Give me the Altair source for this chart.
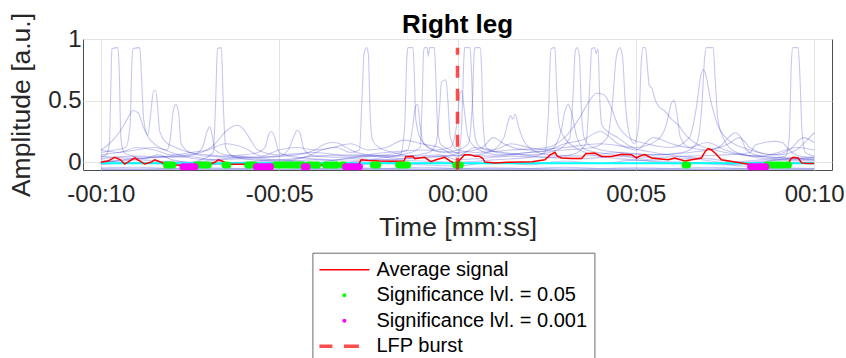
import altair as alt
import pandas as pd

# ---------------- data ----------------
X_TICKS = [-10, -5, 0, 5, 10]
X_TICK_LABELS = ["-00:10", "-00:05", "00:00", "00:05", "00:10"]
Y_TICKS = [0, 0.5, 1]
Y_TICK_LABELS = ["0", "0.5", "1"]

# individual trials (time [s], amplitude [a.u.])
trial_01 = [(-10, 0.04), (-9.85, 0.06), (-9.76, 0.15), (-9.72, 0.6), (-9.69, 0.92), (-9.52, 0.93), (-9.48, 0.7),
            (-9.44, 0.2), (-9.35, 0.08), (-9.1, 0.05), (-8.8, 0.03), (-8.4, 0.06), (-8.0, 0.02), (-7.5, 0.0),
            (-7.1, 0.03), (-6.85, 0.08), (-6.78, 0.5), (-6.73, 0.92), (-6.62, 0.93), (-6.57, 0.5), (-6.5, 0.12),
            (-6.3, 0.05), (-5.8, 0.02), (-5.0, 0.0), (-4.0, -0.02), (-3.0, 0.0), (-2.0, 0.02), (-1.0, 0.01),
            (0.0, 0.0), (1.0, 0.02), (2.0, 0.04), (2.45, 0.08), (2.55, 0.4), (2.62, 0.92), (2.73, 0.93),
            (2.78, 0.6), (2.85, 0.3), (3.0, 0.2), (3.3, 0.12), (3.8, 0.06), (4.5, 0.03), (5.5, 0.01), (6.5, 0.0),
            (7.5, -0.02), (8.5, 0.0), (9.3, 0.03), (10, 0.02)]
trial_02 = [(-10, 0.08), (-9.6, 0.1), (-9.3, 0.12), (-9.18, 0.3), (-9.13, 0.8), (-9.10, 0.92), (-8.91, 0.93),
            (-8.86, 0.7), (-8.8, 0.35), (-8.7, 0.22), (-8.5, 0.15), (-8.2, 0.1), (-7.8, 0.06), (-7.3, 0.04),
            (-6.8, 0.02), (-6.0, 0.03), (-5.0, 0.01), (-4.2, 0.05), (-3.8, 0.1), (-3.4, 0.12), (-3.0, 0.08),
            (-2.75, 0.1), (-2.68, 0.5), (-2.62, 0.88), (-2.55, 0.93), (-2.5, 0.88), (-2.45, 0.4), (-2.38, 0.18),
            (-2.2, 0.12), (-1.8, 0.08), (-1.2, 0.05), (-0.5, 0.06), (0.0, 0.02), (0.6, 0.03), (1.5, 0.05),
            (2.5, 0.04), (3.2, 0.06), (3.6, 0.15), (3.72, 0.7), (3.76, 0.92), (3.85, 0.93), (3.88, 0.88),
            (3.94, 0.92), (3.99, 0.5), (4.05, 0.3), (4.2, 0.25), (4.5, 0.2), (4.9, 0.12), (5.5, 0.08), (6.2, 0.05),
            (7.0, 0.03), (8.0, 0.0), (9.0, 0.02), (10, 0.04)]
trial_03 = [(-10, -0.02), (-9.0, 0.0), (-8.0, -0.02), (-7.0, 0.01), (-6.0, -0.01), (-5.0, 0.0), (-4.0, 0.02),
            (-3.0, 0.01), (-2.0, 0.04), (-1.6, 0.06), (-1.48, 0.3), (-1.42, 0.85), (-1.39, 0.93), (-1.25, 0.93),
            (-1.21, 0.7), (-1.17, 0.35), (-1.05, 0.2), (-0.8, 0.12), (-0.4, 0.08), (0.0, 0.1), (0.3, 0.15),
            (0.42, 0.5), (0.47, 0.9), (0.5, 0.93), (0.63, 0.93), (0.67, 0.8), (0.72, 0.3), (0.8, 0.12), (1.1, 0.08),
            (1.8, 0.06), (2.5, 0.04), (3.5, 0.03), (4.5, 0.05), (5.5, 0.02), (6.5, 0.03), (7.5, 0.0), (8.5, 0.02),
            (9.2, 0.05), (9.3, 0.2), (9.36, 0.8), (9.4, 0.93), (9.55, 0.93), (9.6, 0.7), (9.66, 0.25),
            (9.75, 0.08), (10, 0.05)]
trial_04 = [(-10, 0.05), (-9.0, 0.03), (-8.0, 0.05), (-7.0, 0.02), (-6.0, 0.04), (-5.0, 0.02), (-4.0, 0.05),
            (-3.0, 0.06), (-2.0, 0.05), (-1.3, 0.08), (-1.05, 0.12), (-0.99, 0.5), (-0.95, 0.9), (-0.92, 0.93),
            (-0.85, 0.93), (-0.82, 0.86), (-0.78, 0.93), (-0.65, 0.93), (-0.61, 0.7), (-0.56, 0.3), (-0.48, 0.15),
            (-0.2, 0.1), (0.2, 0.06), (1.0, 0.05), (2.0, 0.08), (3.0, 0.1), (3.8, 0.12), (4.2, 0.2), (4.35, 0.5),
            (4.45, 0.85), (4.55, 0.93), (4.63, 0.85), (4.7, 0.5), (4.8, 0.25), (4.95, 0.15), (5.08, 0.3),
            (5.15, 0.8), (5.2, 0.93), (5.27, 0.93), (5.33, 0.75), (5.38, 0.62), (5.45, 0.6), (5.55, 0.5),
            (5.65, 0.45), (5.8, 0.42), (6.0, 0.35), (6.2, 0.3), (6.4, 0.22), (6.7, 0.15), (7.2, 0.1), (8.0, 0.06),
            (9.0, 0.04), (10, 0.03)]
trial_05 = [(-10, 0.0), (-9.0, 0.02), (-8.0, 0.0), (-7.0, -0.02), (-6.0, 0.0), (-5.0, 0.02), (-4.0, 0.0),
            (-3.0, 0.03), (-2.0, 0.02), (-1.0, 0.04), (-0.3, 0.05), (0.05, 0.08), (0.13, 0.4), (0.18, 0.85),
            (0.2, 0.93), (0.35, 0.93), (0.39, 0.75), (0.44, 0.35), (0.55, 0.15), (0.8, 0.1), (1.3, 0.08),
            (2.0, 0.06), (2.8, 0.1), (3.15, 0.2), (3.25, 0.6), (3.3, 0.9), (3.36, 0.93), (3.42, 0.85),
            (3.47, 0.45), (3.55, 0.2), (3.8, 0.12), (4.5, 0.08), (5.5, 0.06), (6.3, 0.08), (6.7, 0.15),
            (6.85, 0.45), (6.93, 0.85), (6.98, 0.93), (7.17, 0.93), (7.22, 0.7), (7.3, 0.35), (7.45, 0.2),
            (7.7, 0.1), (8.2, 0.05), (9.0, 0.02), (10, 0.01)]
trial_06 = [(-10, 0.1), (-9.8, 0.14), (-9.6, 0.2), (-9.4, 0.28), (-9.24, 0.36), (-9.1, 0.42), (-8.95, 0.4),
            (-8.8, 0.28), (-8.68, 0.22), (-8.6, 0.4), (-8.52, 0.58), (-8.46, 0.58), (-8.4, 0.42), (-8.35, 0.25),
            (-8.2, 0.17), (-7.9, 0.12), (-7.5, 0.08), (-7.0, 0.06), (-6.5, 0.05), (-6.0, 0.06), (-5.6, 0.08),
            (-5.4, 0.12), (-5.3, 0.22), (-5.22, 0.25), (-5.12, 0.2), (-5.0, 0.08), (-4.5, 0.04), (-3.5, 0.02),
            (-2.5, 0.05), (-1.5, 0.03), (-0.5, 0.05), (0.5, 0.06), (1.0, 0.1), (1.3, 0.2), (1.42, 0.33),
            (1.48, 0.38), (1.55, 0.35), (1.62, 0.39), (1.7, 0.3), (1.85, 0.18), (2.1, 0.1), (2.6, 0.06),
            (3.5, 0.05), (4.5, 0.08), (5.5, 0.06), (6.5, 0.08), (7.3, 0.12), (7.6, 0.2), (7.78, 0.24),
            (7.95, 0.2), (8.1, 0.1), (8.5, 0.05), (9.2, 0.03), (10, 0.02)]
trial_07 = [(-10, 0.06), (-9.5, 0.08), (-9.0, 0.1), (-8.5, 0.12), (-8.15, 0.1), (-8.05, 0.2), (-7.98, 0.4),
            (-7.9, 0.47), (-7.82, 0.4), (-7.75, 0.15), (-7.5, 0.08), (-7.0, 0.05), (-6.0, 0.04), (-5.0, 0.05),
            (-4.75, 0.1), (-4.6, 0.2), (-4.5, 0.26), (-4.42, 0.24), (-4.3, 0.1), (-4.0, 0.05), (-3.0, 0.04),
            (-2.0, 0.06), (-1.4, 0.1), (-1.25, 0.3), (-1.18, 0.45), (-1.12, 0.47), (-1.05, 0.3), (-0.95, 0.15),
            (-0.6, 0.1), (-0.2, 0.12), (0.0, 0.35), (0.06, 0.55), (0.12, 0.58), (0.18, 0.45), (0.3, 0.2),
            (0.6, 0.1), (1.2, 0.06), (2.0, 0.08), (2.6, 0.1), (2.9, 0.25), (3.0, 0.4), (3.1, 0.47), (3.2, 0.4),
            (3.35, 0.2), (3.6, 0.1), (4.5, 0.06), (5.5, 0.04), (6.5, 0.05), (7.5, 0.06), (8.2, 0.08),
            (8.35, 0.14), (8.6, 0.16), (8.9, 0.17), (9.1, 0.16), (9.3, 0.1), (9.6, 0.05), (10, 0.04)]
trial_08 = [(-10, 0.03), (-9.0, 0.05), (-8.0, 0.04), (-7.4, 0.06), (-7.15, 0.12), (-7.02, 0.25), (-6.95, 0.29),
            (-6.88, 0.22), (-6.8, 0.1), (-6.5, 0.06), (-5.5, 0.04), (-4.5, 0.06), (-4.0, 0.1), (-3.7, 0.15),
            (-3.5, 0.16), (-3.3, 0.15), (-3.0, 0.1), (-2.5, 0.06), (-1.5, 0.05), (-0.8, 0.08), (-0.6, 0.15),
            (-0.5, 0.45), (-0.45, 0.65), (-0.32, 0.67), (-0.27, 0.5), (-0.2, 0.2), (0.0, 0.1), (0.5, 0.08),
            (1.5, 0.1), (2.5, 0.12), (3.0, 0.2), (3.4, 0.35), (3.7, 0.5), (3.9, 0.56), (4.1, 0.55), (4.3, 0.45),
            (4.5, 0.3), (4.8, 0.2), (5.3, 0.15), (6.0, 0.12), (6.5, 0.2), (6.7, 0.45), (6.82, 0.7), (6.88, 0.75),
            (6.95, 0.72), (7.1, 0.5), (7.3, 0.3), (7.6, 0.18), (8.2, 0.1), (9.0, 0.06), (9.5, 0.1), (9.8, 0.18),
            (10, 0.24)]
trial_09 = [(-10, 0.0), (-9.0, 0.03), (-8.0, 0.05), (-7.2, 0.08), (-6.8, 0.15), (-6.5, 0.25), (-6.3, 0.29),
            (-6.16, 0.3), (-6.0, 0.27), (-5.8, 0.18), (-5.6, 0.1), (-5.0, 0.06), (-4.0, 0.08), (-3.0, 0.05),
            (-2.0, 0.08), (-1.0, 0.1), (0.0, 0.08), (0.7, 0.12), (1.0, 0.2), (1.3, 0.15), (2.0, 0.1), (3.0, 0.12),
            (4.0, 0.15), (5.0, 0.12), (5.6, 0.18), (5.85, 0.3), (6.0, 0.48), (6.07, 0.5), (6.14, 0.42),
            (6.25, 0.2), (6.5, 0.12), (7.0, 0.1), (7.6, 0.15), (7.9, 0.2), (8.2, 0.12), (8.8, 0.06), (9.3, 0.1),
            (9.7, 0.2), (10, 0.16)]
trial_10 = [(-10, 0.1), (-9.5, 0.08), (-9, 0.12), (-8.5, 0.1), (-8, 0.06), (-7.5, 0.08), (-7, 0.1), (-6.5, 0.15),
            (-6.0, 0.12), (-5.5, 0.05), (-5.0, 0.1), (-4.5, 0.12), (-4.0, 0.1), (-3.5, 0.12), (-3.0, 0.15),
            (-2.5, 0.1), (-2.0, 0.12), (-1.5, 0.18), (-1.0, 0.15), (-0.5, 0.12), (0.0, 0.05), (0.5, 0.12),
            (1.0, 0.1), (1.5, 0.15), (2.0, 0.12), (2.5, 0.1), (3.0, 0.15), (3.5, 0.18), (4.0, 0.25), (4.5, 0.15),
            (5.0, 0.1), (5.5, 0.2), (6.0, 0.15), (6.5, 0.12), (7.0, 0.16), (7.5, 0.1), (8.0, 0.06), (8.5, 0.05),
            (9.0, 0.08), (9.5, 0.12), (10, 0.1)]
trial_11 = [(-10, -0.045), (-9, -0.04), (-8, -0.05), (-7, -0.045), (-6, -0.05), (-5, -0.04), (-4, -0.05),
            (-3, -0.045), (-2, -0.05), (-1, -0.04), (0, -0.05), (1, -0.045), (2, -0.05), (3, -0.04), (4, -0.05),
            (5, -0.045), (6, -0.05), (7, -0.04), (8, -0.05), (9, -0.045), (10, -0.05)]
trial_12 = [(-10, -0.056), (-5, -0.056), (0, -0.056), (5, -0.056), (10, -0.056)]
trial_13 = [(-10, -0.055), (-5, -0.056), (0, -0.055), (5, -0.056), (10, -0.055)]
trial_14 = [(-10, 0.02), (-9, -0.01), (-8, 0.01), (-7, -0.02), (-6, 0.0), (-5, -0.03), (-4, -0.01), (-3, -0.03),
            (-2, 0.0), (-1, -0.02), (0, -0.03), (1, 0.0), (2, -0.02), (3, 0.01), (4, -0.01), (5, 0.02),
            (6, -0.01), (7, 0.0), (8, -0.03), (9, -0.01), (10, 0.0)]

# average signal
average_signal = [(-10, 0.0), (-9.8, 0.01), (-9.61, 0.04), (-9.45, 0.02), (-9.33, -0.014), (-9.2, 0.01),
                  (-9.05, 0.035), (-8.9, 0.01), (-8.77, -0.014), (-8.6, 0.0), (-8.49, 0.02), (-8.35, 0.005),
                  (-8.21, -0.014), (-8.0, -0.02), (-7.7, -0.025), (-7.37, -0.025), (-7.0, -0.02), (-6.8, 0.0),
                  (-6.71, 0.02), (-6.6, 0.01), (-6.43, -0.015), (-6.0, -0.015), (-5.5, -0.02), (-5.03, -0.015),
                  (-4.5, -0.02), (-4.0, -0.022), (-3.5, -0.02), (-3.0, -0.022), (-2.78, -0.02), (-2.7, 0.02),
                  (-2.5, 0.015), (-2.2, 0.01), (-1.8, 0.008), (-1.5, 0.01), (-1.45, 0.045), (-1.25, 0.048),
                  (-1.2, 0.03), (-1.05, 0.035), (-0.92, 0.04), (-0.75, 0.005), (-0.6, 0.02), (-0.36, 0.04),
                  (-0.2, 0.01), (-0.03, -0.015), (0.1, 0.03), (0.2, 0.062), (0.35, 0.062), (0.49, 0.05),
                  (0.6, 0.05), (0.7, 0.035), (0.77, 0.002), (1.05, -0.005), (1.4, 0.0), (1.79, 0.002),
                  (2.1, 0.005), (2.45, 0.02), (2.6, 0.06), (2.73, 0.081), (2.8, 0.05), (2.92, 0.035), (3.2, 0.03),
                  (3.48, 0.03), (3.6, 0.07), (3.85, 0.075), (4.04, 0.048), (4.32, 0.048), (4.6, 0.065),
                  (4.88, 0.062), (5.02, 0.035), (5.1, 0.05), (5.25, 0.062), (5.44, 0.035), (5.91, 0.02),
                  (6.09, 0.035), (6.37, 0.01), (6.84, 0.035), (6.95, 0.09), (7.03, 0.11), (7.12, 0.1),
                  (7.22, 0.075), (7.4, 0.02), (7.96, -0.005), (8.24, -0.02), (8.71, -0.035), (9.0, -0.03),
                  (9.27, -0.014), (9.35, 0.03), (9.41, 0.04), (9.55, 0.035), (9.65, -0.005), (9.8, -0.01),
                  (10.0, -0.01)]

# significant samples
sig05_times = [-8.16, -8.10, -8.04, -7.98,
               -7.32, -7.25, -7.18, -7.11, -7.05, -6.99,
               -6.52, -6.44,
               -5.88, -5.81, -5.74, -5.68,
               -5.10, -5.03, -4.96, -4.89, -4.82, -4.75, -4.68, -4.61, -4.54, -4.47, -4.40, -4.34,
               -4.18, -4.11, -4.04, -3.97, -3.92,
               -3.70, -3.63, -3.56, -3.49, -3.42, -3.39,
               -3.24, -3.18,
               -2.36, -2.30, -2.24,
               -1.65, -1.58, -1.51, -1.45, -1.40,
               -0.05, 0.02, 0.08,
               6.38, 6.45,
               8.68, 8.75, 8.82, 8.89, 8.96, 9.03, 9.10,
               9.21, 9.28]
sig05_level = -0.022
sig001_times = [-7.70, -7.63, -7.56, -7.49, -7.42, -7.36,
                -5.64, -5.57, -5.50, -5.43, -5.36, -5.29, -5.24,
                -4.30, -4.22,
                -3.14, -3.07, -3.00, -2.93, -2.86, -2.79, -2.75,
                8.22, 8.29, 8.36, 8.43, 8.50, 8.57, 8.64]
sig001_level = -0.036

threshold_level = -0.008
threshold_span = [-10, 10]
burst_time = 0
burst_span = [-0.06, 0.93]

LEGEND_LABELS = ["Average signal", "Significance lvl. = 0.05", "Significance lvl. = 0.001", "LFP burst"]
LEGEND_COLORS = ["#ff0000", "#00ff00", "#ff00ff", "#ff4d4d"]

# ---------------- tables ----------------
trials = [trial_01, trial_02, trial_03, trial_04, trial_05, trial_06, trial_07,
          trial_08, trial_09, trial_10, trial_11, trial_12, trial_13, trial_14]
trial_rows = []
for i, tr in enumerate(trials):
    for t, v in tr:
        trial_rows.append({"trial": i, "t": t, "v": v})
trials_df = pd.DataFrame(trial_rows)
avg_df = pd.DataFrame(average_signal, columns=["t", "v"])
sig05_df = pd.DataFrame({"t": sig05_times, "v": [sig05_level] * len(sig05_times)})
sig001_df = pd.DataFrame({"t": sig001_times, "v": [sig001_level] * len(sig001_times)})
thr_df = pd.DataFrame({"t0": [threshold_span[0]], "t1": [threshold_span[1]], "v": [threshold_level]})
burst_df = pd.DataFrame({"t": [burst_time], "v0": [burst_span[0]], "v1": [burst_span[1]]})
legend_df = pd.DataFrame({"series": LEGEND_LABELS})

FONT = "Liberation Sans"
TEXT = "#262626"

x_label_expr = " : ".join(f"datum.value == {v} ? '{l}'" for v, l in zip(X_TICKS, X_TICK_LABELS)) + " : ''"
y_label_expr = " : ".join(f"datum.value == {v} ? '{l}'" for v, l in zip(Y_TICKS, Y_TICK_LABELS)) + " : ''"

x_scale = alt.Scale(domain=[-10.5, 10.5], nice=False, zero=False)
y_scale = alt.Scale(domain=[-0.0625, 1], nice=False, zero=False)
x_axis = alt.Axis(values=X_TICKS, labelExpr=x_label_expr, title="Time [mm:ss]", labelPadding=12,
                  titlePadding=8, labelFlush=False)
y_axis = alt.Axis(values=Y_TICKS, labelExpr=y_label_expr, title="Amplitude [a.u.]", labelPadding=2,
                  titlePadding=12)


def X(field):
    return alt.X(field, type="quantitative", scale=x_scale, axis=x_axis)


def Y(field):
    return alt.Y(field, type="quantitative", scale=y_scale, axis=y_axis)


trial_layer = alt.Chart(trials_df).mark_line(
    color="#2020c8", opacity=0.25, strokeWidth=1.1, interpolate="monotone", clip=True
).encode(x=X("t"), y=Y("v"), detail="trial:N")

thr_layer = alt.Chart(thr_df).mark_rule(color="#00ffff", strokeWidth=2).encode(
    x=X("t0"), x2="t1", y=Y("v"))

avg_layer = alt.Chart(avg_df).mark_line(color="#ff0000", strokeWidth=1.5, clip=True).encode(
    x=X("t"), y=Y("v"))

sig05_layer = alt.Chart(sig05_df).mark_circle(color="#00ff00", size=49, opacity=1).encode(
    x=X("t"), y=Y("v"))

sig001_layer = alt.Chart(sig001_df).mark_circle(color="#ff00ff", size=49, opacity=1).encode(
    x=X("t"), y=Y("v"))

burst_layer = alt.Chart(burst_df).mark_rule(
    color="#ff0000", opacity=0.7, strokeWidth=3.5, strokeDash=[12, 11]
).encode(x=X("t"), y=Y("v0"), y2="v1")

# legend symbols (custom paths, unit = 10 px with symbolSize 400)
LINE_PATH = "M-2.5,-0.075H2.5V0.075H-2.5Z"
DOT_PATH = "M-0.2,0A0.2,0.2,0,1,1,0.2,0A0.2,0.2,0,1,1,-0.2,0Z"
DASH_PATH = "M-2.5,-0.175H-1.2V0.175H-2.5Z M-0.05,-0.175H1.45V0.175H-0.05Z"

legend = alt.Legend(orient="none", legendX=229.4, legendY=213.7, padding=7, rowPadding=5.5,
                    labelOffset=22, symbolOffset=15, symbolSize=400, symbolStrokeWidth=0,
                    symbolOpacity=1, labelFontSize=20, labelFont=FONT, labelColor="black",
                    labelLimit=400, strokeColor="#6b6b6b", fillColor="white", cornerRadius=0)

legend_layer = alt.Chart(legend_df).mark_point(filled=True, opacity=0).encode(
    x=alt.value(0), y=alt.value(0),
    color=alt.Color("series:N", title=None, legend=legend,
                    scale=alt.Scale(domain=LEGEND_LABELS, range=LEGEND_COLORS)),
    shape=alt.Shape("series:N", title=None, legend=legend,
                    scale=alt.Scale(domain=LEGEND_LABELS, range=[LINE_PATH, DOT_PATH, DOT_PATH, DASH_PATH])),
)

chart = alt.layer(
    trial_layer, thr_layer, avg_layer, sig05_layer, sig001_layer, burst_layer, legend_layer
).properties(
    width=749, height=131,
    title=alt.TitleParams("Right leg", fontSize=26, fontWeight="bold", font=FONT, color="black",
                          offset=7, dy=54, baseline="alphabetic", anchor="middle", frame="group"),
    autosize=alt.AutoSizeParams(type="none"),
    padding={"left": 83, "top": 39, "right": 14, "bottom": 188},
).configure_view(
    stroke="#4d4d4d", strokeWidth=1
).configure_axis(
    domain=False, ticks=False, grid=True, gridColor="#e3e3e3", gridWidth=1,
    labelFont=FONT, titleFont=FONT, labelFontSize=24, titleFontSize=26.5, titleFontWeight="normal",
    labelColor=TEXT, titleColor=TEXT
)

chart.save("out.html", embed_options={"renderer": "svg", "actions": False})
